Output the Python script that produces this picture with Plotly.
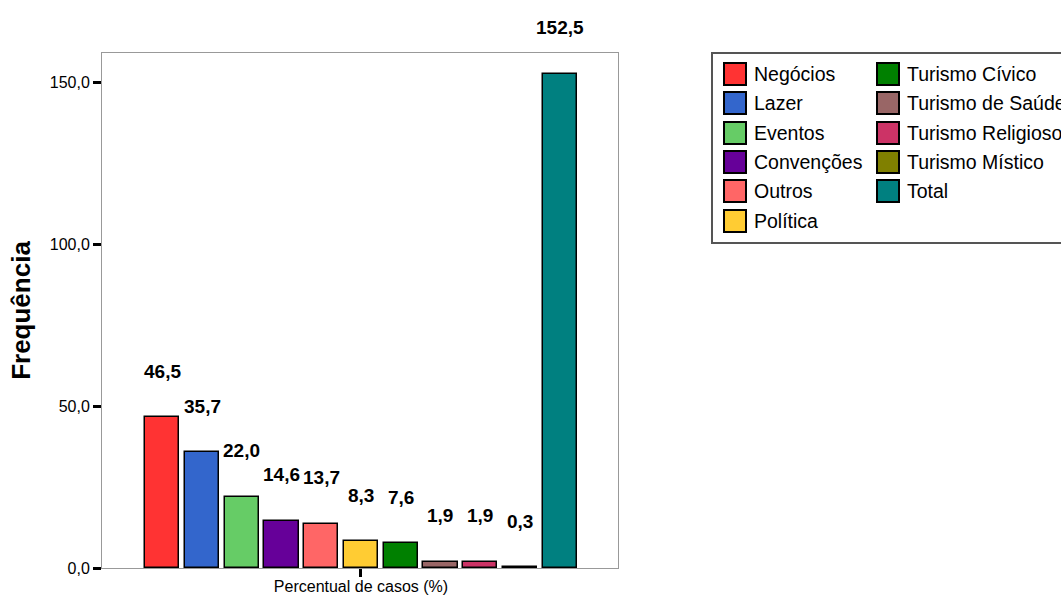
import plotly.graph_objects as go

# Categories, values and colours
categories = ["Negócios", "Lazer", "Eventos", "Convenções", "Outros", "Política",
              "Turismo Cívico", "Turismo de Saúde", "Turismo Religioso",
              "Turismo Místico", "Total"]
values = [46.5, 35.7, 22.0, 14.6, 13.7, 8.3, 7.6, 1.9, 1.9, 0.3, 152.5]
colors = ["#FF3333", "#3366CC", "#66CC66", "#660099", "#FF6666", "#FFCC33",
          "#008000", "#996666", "#CC3366", "#808000", "#008080"]
x_label = "Percentual de casos (%)"
y_title = "Frequência"
y_ticks = [0, 50, 100, 150]

W, H = 1061, 597
L, R, T, B = 102, 618, 53, 568   # plot area in pixels
FONT = "Arial, Liberation Sans, sans-serif"


def fmt(v):
    return f"{v:.1f}".replace(".", ",")


def px2paper(px, py):
    return (px - L) / (R - L), (B - py) / (B - T)


fig = go.Figure()
for i, (name, v, c) in enumerate(zip(categories, values, colors)):
    fig.add_trace(go.Bar(
        x=[i], y=[v], name=name, width=0.86,
        marker=dict(color=c, line=dict(color="black", width=1.5)),
        showlegend=False,
    ))
    fig.add_annotation(
        x=i, y=v, text=f"<b>{fmt(v)}</b>", showarrow=False,
        yshift=46, yanchor="middle", xanchor="center",
        font=dict(family=FONT, size=19, color="black"),
    )

# Legend drawn as a framed two-column key
shapes = []
x0, y0 = px2paper(712, 53)
x1, y1 = px2paper(1075, 243)
shapes.append(dict(type="rect", xref="paper", yref="paper", x0=x0, y0=y0, x1=x1, y1=y1,
                   line=dict(color="#555555", width=2), fillcolor="white", layer="below"))
col_x = [724, 877]
row_y = [74, 103, 133, 162, 191, 221]
split = 6
for k, (name, c) in enumerate(zip(categories, colors)):
    col = 0 if k < split else 1
    row = k if k < split else k - split
    cx, cy = col_x[col], row_y[row]
    a0, b0 = px2paper(cx, cy - 11)
    a1, b1 = px2paper(cx + 22, cy + 11)
    shapes.append(dict(type="rect", xref="paper", yref="paper", x0=a0, y0=b0, x1=a1, y1=b1,
                       line=dict(color="black", width=2), fillcolor=c))
    tx, ty = px2paper(cx + 28, cy)
    fig.add_annotation(xref="paper", yref="paper", x=tx, y=ty, text=name,
                       showarrow=False, xanchor="left", yanchor="middle",
                       font=dict(family=FONT, size=19.5, color="black"))

fig.update_layout(
    width=W, height=H,
    margin=dict(l=L, r=W - R, t=T, b=H - B, autoexpand=False),
    paper_bgcolor="white", plot_bgcolor="white",
    shapes=shapes,
    bargap=0,
    font=dict(family=FONT, color="black"),
)
fig.update_xaxes(
    range=[-1.52, 11.47], showgrid=False, zeroline=False,
    showline=True, linecolor="#999999", linewidth=1, mirror=True,
    tickvals=[5], ticktext=[x_label], ticks="outside", ticklen=8, tickwidth=3,
    tickcolor="black", tickfont=dict(family=FONT, size=16, color="black"),
    ticklabelstandoff=-4,
)
fig.update_yaxes(
    range=[0, (B - T) / 3.24], showgrid=False, zeroline=False,
    showline=True, linecolor="#999999", linewidth=1, mirror=True,
    tickvals=y_ticks, ticktext=[fmt(v) for v in y_ticks],
    ticks="outside", ticklen=8, tickwidth=3, tickcolor="black",
    tickfont=dict(family=FONT, size=16, color="black"),
    title=dict(text=f"<b>{y_title}</b>", font=dict(family=FONT, size=26, color="black"),
               standoff=11),
)

fig.write_html("out.html")
